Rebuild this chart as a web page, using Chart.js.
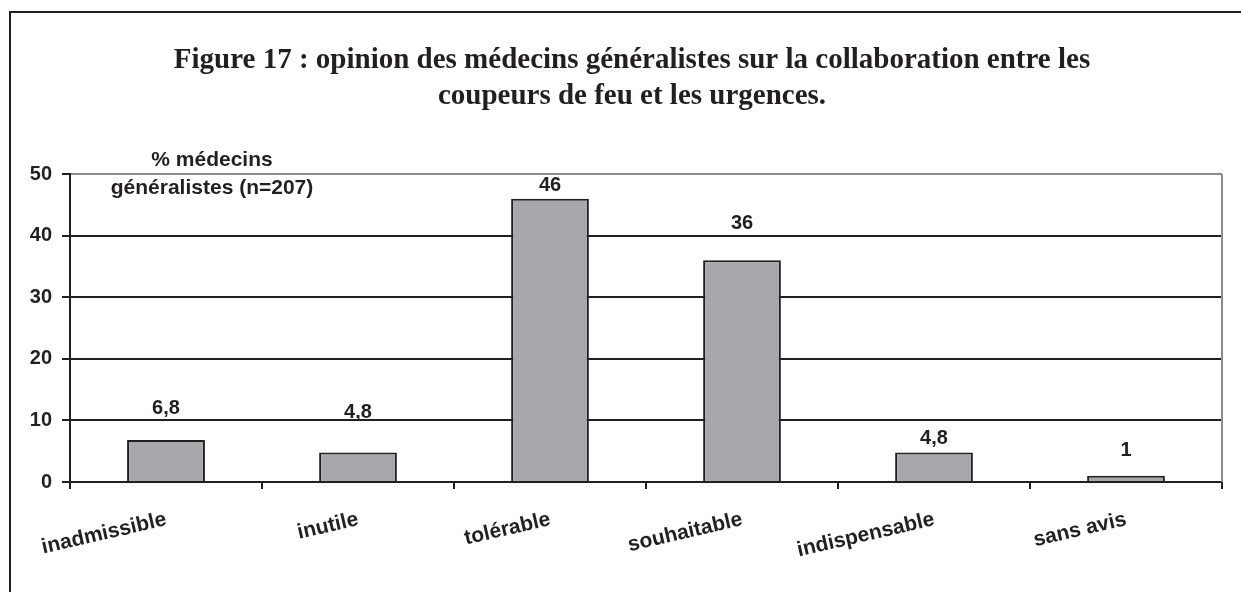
<!DOCTYPE html>
<html>
<head>
<meta charset="utf-8">
<script src="https://cdn.jsdelivr.net/npm/chart.js@4/dist/chart.umd.min.js"></script>
<style>
  html, body { margin: 0; padding: 0; background: #fff; }
  #wrap { width: 1241px; height: 592px; }
</style>
</head>
<body>
<div id="wrap"><canvas id="chart" width="1241" height="592"></canvas></div>
<script>
const categories = ['inadmissible', 'inutile', 'tolérable', 'souhaitable', 'indispensable', 'sans avis'];
const values = [6.8, 4.8, 46, 36, 4.8, 1];
const valueLabels = ['6,8', '4,8', '46', '36', '4,8', '1'];
const yTicks = [0, 10, 20, 30, 40, 50];
const titleLines = [
  'Figure 17 : opinion des médecins généralistes sur la collaboration entre les',
  'coupeurs de feu et les urgences.'
];
const axisTitle = ['% médecins', 'généralistes (n=207)'];

// vertical distance of each value label above its bar, as in the original
const labelOffsets = [32, 40, 13, 37, 14, 25];

const ink = '#231f20';
const sans = '"Liberation Sans", Arial, sans-serif';

const decor = {
  id: 'decor',
  afterDraw(chart) {
    const ctx = chart.ctx;
    const area = chart.chartArea;
    ctx.save();

    // outer frame (left and top)
    ctx.strokeStyle = ink;
    ctx.lineWidth = 2;
    ctx.beginPath();
    ctx.moveTo(10, 592);
    ctx.lineTo(10, 12);
    ctx.lineTo(1241, 12);
    ctx.stroke();

    // right plot border
    ctx.strokeStyle = '#8c8c8c';
    ctx.lineWidth = 2;
    ctx.beginPath();
    ctx.moveTo(area.right, area.top);
    ctx.lineTo(area.right, area.bottom);
    ctx.stroke();

    // title
    ctx.fillStyle = ink;
    ctx.font = 'bold 29px "Liberation Serif", "Times New Roman", serif';
    ctx.textAlign = 'center';
    ctx.textBaseline = 'alphabetic';
    titleLines.forEach((t, i) => ctx.fillText(t, 632, 68 + i * 36));

    // axis title
    ctx.textBaseline = 'middle';
    ctx.font = 'bold 21px ' + sans;
    ctx.fillText(axisTitle[0], area.left + 142, area.top - 14);
    ctx.fillText(axisTitle[1], area.left + 142, area.top + 14);

    // value labels
    ctx.font = 'bold 20px ' + sans;
    const meta = chart.getDatasetMeta(0);
    meta.data.forEach((bar, i) => {
      ctx.fillText(valueLabels[i], bar.x, bar.y - labelOffsets[i]);
    });
    ctx.restore();
  }
};

new Chart(document.getElementById('chart'), {
  type: 'bar',
  data: {
    labels: categories,
    datasets: [{
      data: values,
      backgroundColor: '#a7a8ac',
      borderColor: ink,
      borderWidth: 2,
      borderSkipped: 'bottom',
      barPercentage: 0.81,
      categoryPercentage: 0.5
    }]
  },
  options: {
    responsive: false,
    animation: false,
    layout: { padding: { top: 174, left: 10, right: 19, bottom: 0 } },
    plugins: {
      legend: { display: false },
      tooltip: { enabled: false },
      title: { display: false }
    },
    scales: {
      x: {
        offset: true,
        grid: {
          offset: true,
          drawOnChartArea: false,
          drawTicks: true,
          tickLength: 7,
          color: ink,
          lineWidth: 2
        },
        border: { color: ink, width: 2 },
        ticks: {
          color: ink,
          font: { family: sans, size: 21, weight: 'bold' },
          minRotation: 13,
          maxRotation: 13,
          padding: 18,
          autoSkip: false
        },
        afterFit(scale) { scale.height = 110; }
      },
      y: {
        min: 0,
        max: 50,
        afterBuildTicks(scale) { scale.ticks = yTicks.map(v => ({ value: v })); },
        grid: {
          color: ctx => (ctx.tick && ctx.tick.value === 50 ? '#8c8c8c' : ink),
          lineWidth: 2,
          tickLength: 8,
          tickColor: ink
        },
        border: { color: ink, width: 2 },
        ticks: {
          color: ink,
          font: { family: sans, size: 20, weight: 'bold' },
          padding: 10
        },
        afterFit(scale) { scale.width = 60; }
      }
    }
  },
  plugins: [decor]
});
</script>
</body>
</html>
